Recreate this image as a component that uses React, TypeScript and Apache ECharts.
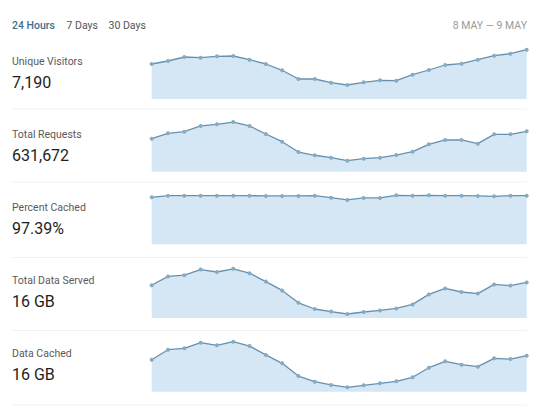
import React, { useEffect, useRef } from "react";
import * as echarts from "echarts";

const hours = [
  "10:00", "11:00", "12:00", "13:00", "14:00", "15:00", "16:00", "17:00",
  "18:00", "19:00", "20:00", "21:00", "22:00", "23:00", "00:00", "01:00",
  "02:00", "03:00", "04:00", "05:00", "06:00", "07:00", "08:00", "09:00",
];

const rangeTabs = ["24 Hours", "7 Days", "30 Days"];
const dateRange = "8 MAY \u2014 9 MAY";

const metricNames = ["Unique Visitors", "Total Requests", "Percent Cached", "Total Data Served", "Data Cached"];
const metricTotals = ["7,190", "631,672", "97.39%", "16 GB", "16 GB"];

const uniqueVisitors = [350, 380, 420, 413, 427, 430, 393, 350, 287, 200, 200, 163, 140, 167, 187, 183, 243, 290, 340, 353, 393, 433, 453, 493];
const totalRequests = [28700, 33400, 34800, 39800, 41200, 43200, 39800, 32800, 26100, 17100, 14300, 12200, 9600, 11300, 12200, 14500, 17400, 23800, 27600, 27600, 24400, 32500, 32500, 35100];
const percentCached = [94.0, 97.3, 97.3, 97.3, 97.3, 97.3, 97.3, 96.7, 96.7, 96.7, 97.3, 93.3, 88.7, 92.7, 92.7, 98.0, 97.3, 98.0, 97.3, 97.3, 96.7, 96.0, 97.3, 97.3];
const dataServedMB = [820, 1040, 1070, 1210, 1150, 1230, 1120, 910, 690, 380, 225, 160, 100, 150, 190, 240, 340, 590, 740, 650, 610, 840, 810, 890];
const dataCachedMB = [800, 1050, 1085, 1225, 1160, 1250, 1140, 920, 710, 390, 250, 170, 110, 160, 210, 260, 360, 600, 760, 675, 625, 835, 815, 900];

const seriesValues = [uniqueVisitors, totalRequests, percentCached, dataServedMB, dataCachedMB];
const axisMax = [500, 43500, 100, 1250, 1250];

export default function App() {
  const ref = useRef<HTMLDivElement>(null);
  useEffect(() => {
    document.body.style.margin = "0";
    if (!ref.current) return;
    const chart = echarts.init(ref.current, null, { renderer: "svg" });
    const font = "Roboto, sans-serif";
    const bottoms = [99, 171.7, 244.3, 318, 391.7];
    const gridH = 50;
    const labelY = [61.5, 134.6, 207.7, 280.8, 353.9];
    const sepY = [109, 182, 257.5, 330.5, 405];

    const grids = bottoms.map((b) => ({
      left: 151.7,
      right: 13.3,
      top: b - gridH,
      height: gridH,
    }));
    const xAxes = bottoms.map((_, i) => ({
      type: "category",
      gridIndex: i,
      data: hours,
      boundaryGap: false,
      show: false,
    }));
    const yAxes = bottoms.map((_, i) => ({
      type: "value",
      gridIndex: i,
      min: 0,
      max: axisMax[i],
      show: false,
    }));
    const series = seriesValues.map((vals, i) => ({
      type: "line",
      name: metricNames[i],
      xAxisIndex: i,
      yAxisIndex: i,
      data: vals,
      symbol: "circle",
      symbolSize: 4,
      showSymbol: true,
      lineStyle: { color: "#6890ae", width: 1.3 },
      itemStyle: { color: "#86abc4", borderWidth: 0 },
      areaStyle: { color: "#d5e7f4", opacity: 1, origin: "start" },
    }));

    const graphic: any[] = [];
    const tabX = [12, 66.5, 108.5];
    rangeTabs.forEach((t, i) => {
      graphic.push({
        type: "text",
        style: {
          text: t,
          x: tabX[i],
          y: 25.7,
          font: `${i === 0 ? 500 : 400} 10.5px ${font}`,
          fill: i === 0 ? "#3d6f92" : "#555555",
          textVerticalAlign: "middle",
        },
      });
    });
    graphic.push({
      type: "text",
      style: {
        text: dateRange,
        x: 527,
        y: 25.7,
        font: `400 10.5px ${font}`,
        fill: "#9a9a9a",
        textAlign: "right",
        textVerticalAlign: "middle",
      },
    });
    metricNames.forEach((n, i) => {
      graphic.push({
        type: "text",
        style: {
          text: n,
          x: 12,
          y: labelY[i],
          font: `400 10.5px ${font}`,
          fill: "#5a5a5a",
          textVerticalAlign: "middle",
        },
      });
      graphic.push({
        type: "text",
        style: {
          text: metricTotals[i],
          x: 12,
          y: labelY[i] + 20.5,
          font: `400 16px ${font}`,
          fill: "#1e1e1e",
          textVerticalAlign: "middle",
        },
      });
    });
    sepY.forEach((y) => {
      graphic.push({
        type: "line",
        shape: { x1: 12, y1: y, x2: 527, y2: y },
        style: { stroke: "#f2f2f2", lineWidth: 1 },
      });
    });

    chart.setOption({
      animation: false,
      grid: grids,
      xAxis: xAxes,
      yAxis: yAxes,
      series,
      graphic,
    });
    return () => chart.dispose();
  }, []);
  return <div ref={ref} style={{ width: 540, height: 407 }} />;
}
